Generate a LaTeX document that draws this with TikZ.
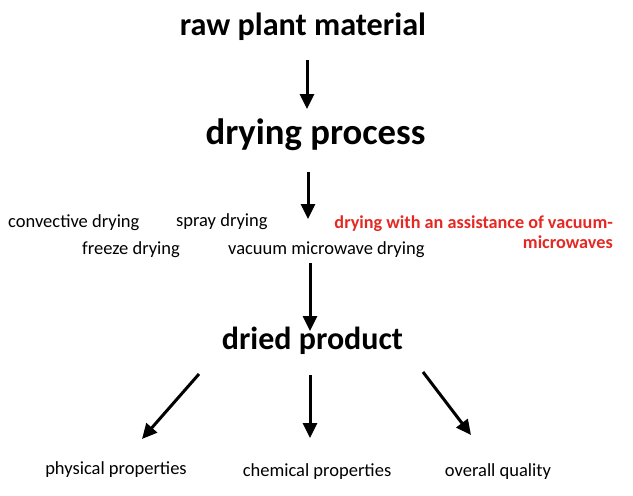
\documentclass[tikz,border=0pt]{standalone}
\usepackage{fontspec}
\setmainfont{Carlito}
\usetikzlibrary{arrows.meta}
\definecolor{redtxt}{RGB}{228,40,35}
\tikzset{
  head/.style={font=\bfseries\fontsize{32.2}{38}\selectfont, inner sep=0pt},
  headbig/.style={font=\bfseries\fontsize{36.7}{42}\selectfont, inner sep=0pt},
  headmid/.style={font=\bfseries\fontsize{32}{38}\selectfont, inner sep=0pt},
  lab/.style={font=\fontsize{18.5}{22}\selectfont, inner sep=0pt},
  redlab/.style={font=\bfseries\fontsize{18.2}{20.5}\selectfont, text=redtxt, inner sep=0pt, align=right},
  arr/.style={line width=3pt, -{Triangle[length=15pt,width=14pt]}}
}
\begin{document}
\begin{tikzpicture}[x=1pt,y=-1pt]
\useasboundingbox (0,0) rectangle (633,496);
\node[head] (raw) at (303,27) {raw plant material};
\node[headbig] (proc) at (315.5,135) {drying process};
\node[headmid] (dried) at (312.5,341) {dried product};

\node[lab, anchor=west] (conv) at (8,223) {convective drying};
\node[lab, anchor=west] (spray) at (176,222) {spray drying};
\node[lab, anchor=west] (freeze) at (82,250) {freeze drying};
\node[lab, anchor=west] (vmw) at (228,250) {vacuum microwave drying};
\node[redlab, anchor=east] (red) at (613,232) {drying with an assistance of vacuum-\\microwaves};

\node[lab] (phys) at (116,470) {physical properties};
\node[lab] (chem) at (317,472) {chemical properties};
\node[lab] (qual) at (498,472) {overall quality};

\coordinate (a1s) at (307,60);  \coordinate (a1e) at (307,109);
\coordinate (a2s) at (308,172); \coordinate (a2e) at (308,219);
\coordinate (a3s) at (310,263); \coordinate (a3e) at (310,331);
\coordinate (b1s) at (199,374); \coordinate (b1e) at (142,439);
\coordinate (b2s) at (310,375); \coordinate (b2e) at (310,438);
\coordinate (b3s) at (423,372); \coordinate (b3e) at (471,435);

\draw[arr] (a1s) -- (a1e);
\draw[arr] (a2s) -- (a2e);
\draw[arr] (a3s) -- (a3e);
\draw[arr] (b1s) -- (b1e);
\draw[arr] (b2s) -- (b2e);
\draw[arr] (b3s) -- (b3e);
\end{tikzpicture}
\end{document}
